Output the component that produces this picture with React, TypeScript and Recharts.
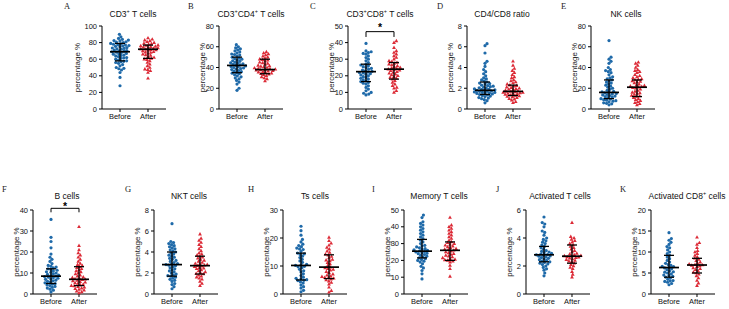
import React from "react";
import { ScatterChart, Scatter, XAxis, YAxis, ReferenceLine, ReferenceDot } from "recharts";

const BLUE = "#1f6aa9";
const RED = "#dc2a36";
const SPACING = 28; // px between Before and After columns

const GROUPS = ["Before", "After"];

// values (percentage %)
const A_BEFORE = [28, 38, 44, 47, 48.5, 49, 50, 52, 53.5, 55, 56, 57, 57.5, 58, 59, 60, 61, 61.5, 62, 63, 64, 64.5, 65, 66, 66.5, 67, 68, 68.5, 69, 69.5, 70, 70.5, 71, 72, 72.5, 73, 73.5, 74, 75, 75.5, 76, 76.5, 77, 77.5, 78, 78.5, 79, 80, 80.5, 81, 82, 82.5, 83, 84, 85, 87, 90];
const A_AFTER = [37, 44, 46, 47.5, 48, 50, 52, 54, 56, 58, 59.5, 60, 61, 62, 63, 64.5, 65, 66, 67, 68, 68.5, 69, 70, 70.5, 71, 71.5, 72, 72.5, 73, 73.5, 74, 74.5, 75, 75.5, 76, 76.5, 77, 78, 78.5, 79, 80, 81, 82, 83, 84, 85.5];
const B_BEFORE = [18, 20, 24, 26, 27.5, 29, 30, 31, 32, 33, 34, 34.5, 35, 36, 36.5, 37, 38, 38.5, 39, 39.5, 40, 40.5, 41, 41.5, 42, 42.5, 43, 43.5, 44, 44.5, 45, 46, 46.5, 47, 48, 48.5, 49, 50, 51, 52, 52.5, 53, 54, 55, 56, 57, 58, 59, 60, 62];
const B_AFTER = [27, 29, 30, 31, 32, 33, 33.5, 34, 34.5, 35, 35.5, 36, 36.5, 37, 37.3, 37.6, 38, 38.3, 38.6, 39, 39.5, 40, 40.5, 41, 41.5, 42, 43, 44, 44.5, 45, 46, 47, 47.5, 48, 49, 50, 51, 52, 53, 54, 55];
const C_BEFORE = [8.5, 9, 9.5, 10, 11, 12, 13, 14, 15, 15.5, 16, 16.5, 17, 17.5, 18, 18.5, 19, 19.5, 20, 20.5, 21, 21.3, 21.7, 22, 22.3, 22.7, 23, 23.5, 24, 24.5, 25, 25.5, 26, 26.5, 27, 28, 29, 30, 31, 32, 33, 33.5, 34, 34.5, 35, 39.5];
const C_AFTER = [10, 11, 12.5, 13, 14, 15, 16, 17, 18, 18.5, 19, 19.5, 20, 20.5, 21, 21.5, 22, 22.5, 23, 23.3, 23.7, 24, 24.3, 24.7, 25, 25.5, 26, 26.5, 27, 27.5, 28, 28.5, 29, 30, 31, 32, 33, 34, 35, 37, 40, 41];
const D_BEFORE = [0.6, 0.8, 0.9, 1.0, 1.05, 1.1, 1.2, 1.25, 1.3, 1.35, 1.4, 1.45, 1.5, 1.5, 1.55, 1.6, 1.6, 1.65, 1.7, 1.7, 1.75, 1.8, 1.8, 1.85, 1.9, 1.9, 1.95, 2.0, 2.05, 2.1, 2.15, 2.2, 2.25, 2.3, 2.4, 2.45, 2.5, 2.6, 2.7, 2.8, 2.9, 3.0, 3.2, 3.4, 3.6, 3.8, 4.1, 4.4, 4.6, 5.4, 6.1, 6.3];
const D_AFTER = [0.6, 0.7, 0.85, 0.95, 1.0, 1.1, 1.15, 1.2, 1.25, 1.3, 1.35, 1.4, 1.45, 1.5, 1.5, 1.55, 1.6, 1.6, 1.65, 1.7, 1.7, 1.75, 1.8, 1.85, 1.9, 1.95, 2.0, 2.05, 2.1, 2.2, 2.25, 2.3, 2.4, 2.5, 2.6, 2.7, 2.8, 3.0, 3.1, 3.3, 3.5, 3.7, 3.9, 4.2, 4.6];
const E_BEFORE = [4, 5, 5.5, 6, 7, 7.5, 8, 8.5, 9, 9.5, 10, 11, 11.5, 12, 12.5, 13, 13.5, 14, 14.5, 15, 15.5, 16, 16.5, 17, 18, 19, 20, 21, 22, 23, 24, 25, 26, 27, 28, 29, 30, 31, 33, 35, 36, 37, 38, 40, 44, 46, 48, 50, 66];
const E_AFTER = [4, 5, 6, 7, 8, 9, 10, 11, 12, 12.5, 13, 14, 15, 15.5, 16, 17, 18, 19, 20, 20.5, 21, 21.5, 22, 22.5, 23, 24, 25, 26, 26.5, 27, 28, 28.5, 29, 30, 31, 32, 33, 35, 36, 37, 38, 40, 42, 44, 45];
const F_BEFORE = [1, 1.8, 2.3, 2.8, 3.2, 3.6, 4, 4.3, 4.7, 5, 5.3, 5.7, 6, 6.3, 6.6, 7, 7.2, 7.5, 7.8, 8, 8.3, 8.5, 8.8, 9, 9.3, 9.6, 10, 10.3, 10.6, 11, 11.3, 11.7, 12, 12.4, 12.8, 13.2, 13.6, 14.5, 15.5, 16.5, 17.5, 19, 22, 25, 27, 35.5];
const F_AFTER = [0.5, 1, 1.3, 1.8, 2.2, 2.5, 2.8, 3.2, 3.5, 3.8, 4, 4.3, 4.6, 5, 5.3, 5.6, 5.9, 6.2, 6.5, 6.8, 7, 7.2, 7.5, 7.8, 8.1, 8.5, 9, 9.5, 10, 10.5, 11, 11.5, 12, 12.5, 13, 13.5, 14, 14.5, 15.5, 16.5, 17.5, 18.5, 19.5, 21, 23, 32];
const G_BEFORE = [0.5, 0.7, 0.9, 1.0, 1.2, 1.3, 1.4, 1.5, 1.6, 1.7, 1.75, 1.8, 1.9, 2.0, 2.1, 2.2, 2.3, 2.4, 2.5, 2.6, 2.7, 2.75, 2.8, 2.85, 2.9, 3.0, 3.1, 3.2, 3.3, 3.4, 3.5, 3.6, 3.7, 3.8, 3.9, 4.0, 4.1, 4.2, 4.3, 4.4, 4.5, 4.6, 4.7, 4.8, 4.9, 5.0, 6.7];
const G_AFTER = [0.8, 1.0, 1.2, 1.4, 1.5, 1.6, 1.7, 1.8, 1.9, 1.95, 2.0, 2.1, 2.2, 2.3, 2.4, 2.45, 2.5, 2.6, 2.65, 2.7, 2.75, 2.8, 2.85, 2.9, 3.0, 3.1, 3.2, 3.3, 3.4, 3.5, 3.6, 3.7, 3.8, 3.9, 4.1, 4.3, 4.5, 4.7, 4.9, 5.1, 5.3, 5.7];
const H_BEFORE = [0.8, 1.3, 2.1, 2.6, 3.2, 3.9, 4.3, 4.8, 4.9, 5.1, 5.4, 5.6, 6.0, 6.6, 7.2, 7.9, 8.3, 8.8, 9.4, 9.7, 9.9, 10.2, 10.4, 10.6, 11.3, 11.8, 12.4, 13.0, 13.5, 14.1, 14.3, 14.6, 15.2, 15.9, 16.1, 16.4, 16.9, 17.3, 17.8, 18.6, 19.5, 21.0, 22.6, 24.2];
const H_AFTER = [0.6, 1.2, 2.4, 3.5, 4.1, 4.6, 5.0, 5.3, 5.6, 5.8, 5.9, 6.2, 6.4, 6.7, 7.1, 7.6, 8.0, 8.5, 8.8, 9.0, 9.3, 9.6, 10.1, 10.7, 11.2, 11.8, 12.1, 12.3, 12.9, 13.4, 13.9, 14.2, 14.8, 15.3, 16.0, 16.6, 17.4, 18.1, 19.0, 20.2];
const I_BEFORE = [9, 12, 14, 15.5, 16.5, 18, 19, 19.5, 20, 20.5, 21, 21.5, 22, 22.5, 23, 23.5, 24, 24.3, 24.6, 25, 25.3, 25.6, 26, 26.3, 26.7, 27, 27.5, 28, 28.5, 29, 30, 31, 32, 33, 34, 35, 36, 37, 38, 39, 40, 41, 42, 43, 45.5, 47];
const I_AFTER = [10.5, 15, 17, 19, 19.5, 20, 20.3, 20.6, 21, 21.5, 22, 22.5, 23, 23.5, 24, 24.5, 25, 25.5, 26, 26.3, 26.6, 27, 27.5, 28, 28.5, 29, 29.5, 30, 30.5, 31, 32, 33, 34, 35, 36, 37, 38, 39, 40, 41, 45.5];
const J_BEFORE = [1.3, 1.5, 1.7, 1.8, 1.9, 2.0, 2.1, 2.15, 2.2, 2.25, 2.3, 2.35, 2.4, 2.45, 2.5, 2.55, 2.6, 2.65, 2.7, 2.72, 2.75, 2.8, 2.82, 2.85, 2.9, 2.95, 3.0, 3.05, 3.1, 3.2, 3.3, 3.4, 3.5, 3.6, 3.7, 3.8, 3.9, 4.0, 4.2, 4.4, 4.5, 4.8, 5.0, 5.1, 5.5];
const J_AFTER = [1.2, 1.4, 1.6, 1.8, 1.9, 2.0, 2.1, 2.2, 2.3, 2.35, 2.4, 2.45, 2.5, 2.55, 2.6, 2.62, 2.65, 2.7, 2.72, 2.75, 2.8, 2.85, 2.9, 3.0, 3.1, 3.2, 3.3, 3.4, 3.5, 3.6, 3.7, 3.8, 3.9, 4.0, 4.1, 5.1];
const K_BEFORE = [2.2, 2.5, 2.8, 3.0, 3.1, 3.2, 3.5, 3.8, 4.0, 4.2, 4.4, 4.5, 4.8, 5.0, 5.2, 5.3, 5.5, 5.8, 6.0, 6.2, 6.3, 6.5, 6.6, 6.8, 7.0, 7.3, 7.6, 8.0, 8.4, 8.8, 9.2, 9.6, 10.0, 10.5, 11.0, 11.3, 11.8, 12.3, 12.8, 13.2, 14.6];
const K_AFTER = [2.0, 2.6, 3.2, 3.8, 4.3, 4.7, 5.0, 5.2, 5.5, 5.8, 6.0, 6.2, 6.5, 6.7, 6.8, 6.9, 7.0, 7.1, 7.3, 7.6, 7.9, 8.2, 8.5, 8.8, 9.2, 9.6, 10.0, 10.3, 11.0, 11.8, 12.2, 13.5];

// [Q1, median, Q3]
const A_STATS = [[58, 69, 79], [61, 72, 77]];
const B_STATS = [[35, 42, 50], [34, 38, 48]];
const C_STATS = [[16.5, 22.5, 27], [18, 24, 28]];
const D_STATS = [[1.4, 1.8, 2.6], [1.3, 1.7, 2.3]];
const E_STATS = [[10, 16, 28], [12, 21, 28]];
const F_STATS = [[5, 8.5, 12], [4, 7, 13]];
const G_STATS = [[1.7, 2.8, 4.0], [1.9, 2.7, 3.6]];
const H_STATS = [[5, 10.2, 14.6], [5.5, 9.6, 14]];
const I_STATS = [[21.5, 25.5, 32.5], [20, 26, 31]];
const J_STATS = [[2.3, 2.8, 3.4], [2.2, 2.7, 3.5]];
const K_STATS = [[4, 6.3, 9.2], [5, 6.9, 8.5]];

// significance brackets: [bar, foot, star]
const C_SIG = [46.6, 43.4, 50.6];
const F_SIG = [40.8, 38.9, 43.0];

const ROWS = [
  { plotTop: 26, plotH: 83, letterTop: 1, titleTop: 8 },
  { plotTop: 210, plotH: 84, letterTop: 184, titleTop: 190 },
];

const sup = (t: string) => <sup style={{ fontSize: 5.5, lineHeight: 0 }}>{t}</sup>;

const PANELS = [
  { letter: "A", letterX: 64, title: <>CD3{sup("+")} T cells</>, titleX: 133, row: 0, axisX: 102, yMax: 100, yTicks: [0, 20, 40, 60, 80, 100], yw: 28, before: A_BEFORE, after: A_AFTER, stats: A_STATS },
  { letter: "B", letterX: 188, title: <>CD3{sup("+")}CD4{sup("+")} T cells</>, titleX: 251, row: 0, axisX: 219, yMax: 80, yTicks: [0, 20, 40, 60, 80], yw: 20, before: B_BEFORE, after: B_AFTER, stats: B_STATS },
  { letter: "C", letterX: 310, title: <>CD3{sup("+")}CD8{sup("+")} T cells</>, titleX: 380, row: 0, axisX: 348, yMax: 50, yTicks: [0, 10, 20, 30, 40, 50], yw: 20, before: C_BEFORE, after: C_AFTER, stats: C_STATS, sig: C_SIG },
  { letter: "D", letterX: 437, title: <>CD4/CD8 ratio</>, titleX: 502, row: 0, axisX: 467, yMax: 8, yTicks: [0, 2, 4, 6, 8], yw: 20, before: D_BEFORE, after: D_AFTER, stats: D_STATS },
  { letter: "E", letterX: 561, title: <>NK cells</>, titleX: 626, row: 0, axisX: 591, yMax: 80, yTicks: [0, 20, 40, 60, 80], yw: 20, before: E_BEFORE, after: E_AFTER, stats: E_STATS },
  { letter: "F", letterX: 2, title: <>B cells</>, titleX: 67, row: 1, axisX: 33, yMax: 40, yTicks: [0, 10, 20, 30, 40], yw: 20, before: F_BEFORE, after: F_AFTER, stats: F_STATS, sig: F_SIG },
  { letter: "G", letterX: 125, title: <>NKT cells</>, titleX: 189, row: 1, axisX: 154, yMax: 8, yTicks: [0, 2, 4, 6, 8], yw: 20, before: G_BEFORE, after: G_AFTER, stats: G_STATS },
  { letter: "H", letterX: 248, title: <>Ts cells</>, titleX: 315, row: 1, axisX: 283, yMax: 30, yTicks: [0, 10, 20, 30], yw: 20, before: H_BEFORE, after: H_AFTER, stats: H_STATS },
  { letter: "I", letterX: 372, title: <>Memory T cells</>, titleX: 439, row: 1, axisX: 404, yMax: 50, yTicks: [0, 10, 20, 30, 40, 50], yw: 20, before: I_BEFORE, after: I_AFTER, stats: I_STATS },
  { letter: "J", letterX: 496, title: <>Activated T cells</>, titleX: 560, row: 1, axisX: 526, yMax: 6, yTicks: [0, 2, 4, 6], yw: 20, before: J_BEFORE, after: J_AFTER, stats: J_STATS },
  { letter: "K", letterX: 620, title: <>Activated CD8{sup("+")} cells</>, titleX: 687, row: 1, axisX: 651, yMax: 20, yTicks: [0, 5, 10, 15, 20], yw: 20, before: K_BEFORE, after: K_AFTER, stats: K_STATS },
];

// beeswarm layout: spread points sideways so that they don't overlap
function swarm(values: number[], yMax: number, plotH: number, group: number) {
  const D = 2.9;
  const maxDx = 11;
  const k = plotH / yMax;
  const placed: { x: number; y: number }[] = [];
  const sorted = [...values].sort((a, b) => a - b);
  return sorted.map((v) => {
    const y = v * k;
    const cands = [0];
    for (const p of placed) {
      const dy = Math.abs(p.y - y);
      if (dy < D) {
        const dx = Math.sqrt(D * D - dy * dy);
        cands.push(p.x + dx, p.x - dx);
      }
    }
    cands.sort((a, b) => Math.abs(a) - Math.abs(b));
    const free = cands.find((c) => placed.every((p) => (p.x - c) ** 2 + (p.y - y) ** 2 >= D * D - 1e-6));
    let dx = free === undefined ? 0 : free;
    if (Math.abs(dx) > maxDx) dx = Math.sign(dx) * (maxDx - ((placed.length * 3.7) % 6));
    placed.push({ x: dx, y });
    return { x: group + dx / SPACING, y: v };
  });
}

const Circle = (p: any) => <circle cx={p.cx} cy={p.cy} r={1.6} fill={BLUE} />;
const Triangle = (p: any) => (
  <polygon points={`${p.cx},${p.cy - 2.1} ${p.cx - 1.9},${p.cy + 1.3} ${p.cx + 1.9},${p.cy + 1.3}`} fill={RED} />
);
const NoDot = () => <g />;

// median line + interquartile whisker with caps, in data units
function statSegments(stats: number[][]) {
  const half = 10 / SPACING;
  const cap = 5 / SPACING;
  const segs: { pts: { x: number; y: number }[]; w: number }[] = [];
  stats.forEach(([q1, med, q3], i) => {
    const g = i + 1;
    segs.push({ pts: [{ x: g, y: q1 }, { x: g, y: q3 }], w: 1.3 });
    segs.push({ pts: [{ x: g - cap, y: q1 }, { x: g + cap, y: q1 }], w: 1.3 });
    segs.push({ pts: [{ x: g - cap, y: q3 }, { x: g + cap, y: q3 }], w: 1.3 });
    segs.push({ pts: [{ x: g - half, y: med }, { x: g + half, y: med }], w: 1.7 });
  });
  return segs;
}

function DotPlot({ p }: { p: any }) {
  const row = ROWS[p.row];
  const ML = 4, MT = 12, MR = 4, XH = 16;
  const width = ML + p.yw + 64 + MR;
  const height = MT + row.plotH + XH;
  const before = swarm(p.before, p.yMax, row.plotH, 1);
  const after = swarm(p.after, p.yMax, row.plotH, 2);
  const segs = statSegments(p.stats);
  const axisStyle = { stroke: "#000", strokeWidth: 1 };
  return (
    <div style={{ position: "absolute", left: p.axisX - p.yw - ML, top: row.plotTop - MT }}>
      <ScatterChart width={width} height={height} margin={{ top: MT, right: MR, bottom: 0, left: ML }}>
        <XAxis
          type="number"
          dataKey="x"
          domain={[0.357, 2.643]}
          ticks={[1, 2]}
          interval={0}
          tickFormatter={(v) => GROUPS[v - 1]}
          height={XH}
          tickSize={3}
          axisLine={axisStyle}
          tickLine={axisStyle}
          tick={{ fontSize: 7.5, fill: "#111" }}
        />
        <YAxis
          type="number"
          dataKey="y"
          domain={[0, p.yMax]}
          ticks={p.yTicks}
          interval={0}
          width={p.yw}
          tickSize={3}
          axisLine={axisStyle}
          tickLine={axisStyle}
          tick={{ fontSize: 7.5, fill: "#111" }}
          label={{
            value: "percentage %",
            angle: -90,
            position: "insideLeft",
            offset: 3,
            style: { textAnchor: "middle", fontSize: 8, fill: "#222" },
          }}
        />
        <Scatter data={before} shape={Circle} isAnimationActive={false} />
        <Scatter data={after} shape={Triangle} isAnimationActive={false} />
        {segs.map((s, i) => (
          <Scatter
            key={`s${i}`}
            data={s.pts}
            shape={NoDot}
            line={{ stroke: "#000", strokeWidth: s.w }}
            isAnimationActive={false}
          />
        ))}
        {p.sig && (
          <ReferenceLine segment={[{ x: 1, y: p.sig[0] }, { x: 2, y: p.sig[0] }]} stroke="#000" strokeWidth={1} ifOverflow="visible" />
        )}
        {p.sig && (
          <ReferenceLine segment={[{ x: 1, y: p.sig[0] }, { x: 1, y: p.sig[1] }]} stroke="#000" strokeWidth={1} ifOverflow="visible" />
        )}
        {p.sig && (
          <ReferenceLine segment={[{ x: 2, y: p.sig[0] }, { x: 2, y: p.sig[1] }]} stroke="#000" strokeWidth={1} ifOverflow="visible" />
        )}
        {p.sig && (
          <ReferenceDot
            x={1.5}
            y={p.sig[2]}
            r={0.01}
            fill="none"
            stroke="none"
            ifOverflow="visible"
            label={{ value: "*", position: "center", fontSize: 10.5, fontWeight: "bold", fill: "#000", dy: 2.5 }}
          />
        )}
      </ScatterChart>
    </div>
  );
}

export default function App() {
  return (
    <div
      style={{
        position: "absolute",
        left: 0,
        top: 0,
        width: 729,
        height: 309,
        background: "#fff",
        overflow: "hidden",
        fontFamily: '"Liberation Sans", Arial, sans-serif',
      }}
    >
      {PANELS.map((p) => (
        <React.Fragment key={p.letter}>
          <div
            style={{
              position: "absolute",
              left: p.letterX,
              top: ROWS[p.row].letterTop,
              fontFamily: '"Liberation Serif", "Times New Roman", serif',
              fontSize: 8.5,
              lineHeight: "11px",
              color: "#222",
            }}
          >
            {p.letter}
          </div>
          <div
            style={{
              position: "absolute",
              left: p.titleX - 60,
              width: 120,
              top: ROWS[p.row].titleTop,
              textAlign: "center",
              fontSize: 8.5,
              lineHeight: "12px",
              color: "#111",
              whiteSpace: "nowrap",
            }}
          >
            {p.title}
          </div>
          <DotPlot p={p} />
        </React.Fragment>
      ))}
    </div>
  );
}
